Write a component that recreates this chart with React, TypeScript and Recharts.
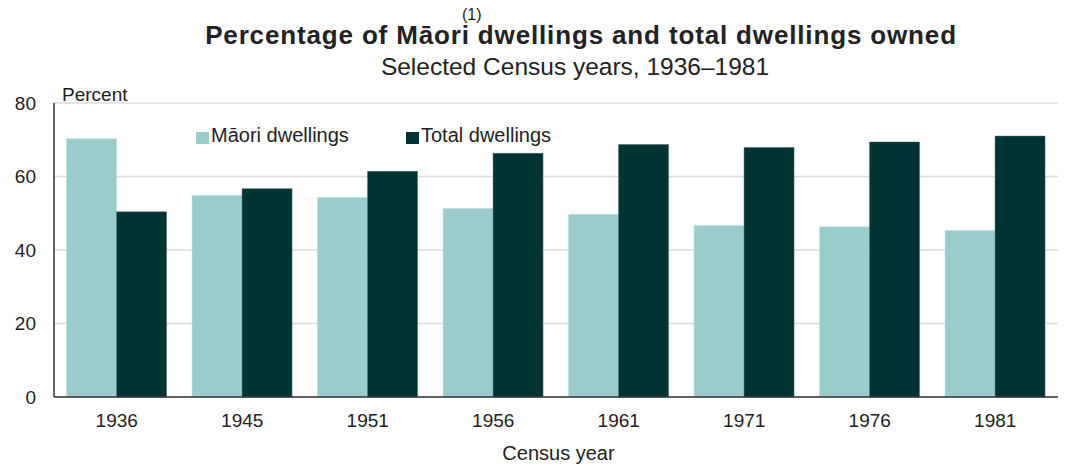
import { BarChart, Bar, XAxis, YAxis, CartesianGrid } from "recharts";

const MAORI = "#9bcccc", TOTAL = "#003434", GRID = "#dcdcdc", AXIS = "#333", TEXT = "#222";
const FONT = "'Liberation Sans', Arial, Helvetica, sans-serif";

const years = ["1936", "1945", "1951", "1956", "1961", "1971", "1976", "1981"];
const maori = [70.3, 54.8, 54.3, 51.3, 49.7, 46.7, 46.3, 45.3];
const total = [50.4, 56.7, 61.4, 66.3, 68.7, 67.9, 69.4, 71.0];
const yTicks = [0, 20, 40, 60, 80];

const data = years.map((y, i) => ({ year: y, maori: maori[i], total: total[i] }));

const txt = (top: number, size: number, extra: React.CSSProperties = {}): React.CSSProperties => ({
  position: "absolute", top, fontSize: size, lineHeight: 1, color: TEXT, whiteSpace: "nowrap", ...extra,
});

function LegendItem({ color, label, left }: { color: string; label: string; left: number }) {
  return (
    <div style={txt(125, 20, { left, display: "flex", alignItems: "flex-end" })}>
      <span style={{ width: 13, height: 12, background: color, marginRight: 2, marginBottom: 1 }} />
      <span>{label}</span>
    </div>
  );
}

export default function App() {
  return (
    <div style={{ position: "absolute", left: 0, top: 0, width: 1066, height: 466, background: "#fff", fontFamily: FONT }}>
      <div style={txt(22, 26, { left: 0, width: 1162, textAlign: "center", fontWeight: "bold", letterSpacing: 0.85 })}>
        Percentage of Māori dwellings and total dwellings owned
      </div>
      <div style={txt(7, 16, { left: 462 })}>(1)</div>
      <div style={txt(55, 24.5, { left: 0, width: 1150, textAlign: "center" })}>Selected Census years, 1936–1981</div>
      <div style={txt(85, 19, { left: 62 })}>Percent</div>
      <div style={txt(443, 20, { left: 0, width: 1117, textAlign: "center" })}>Census year</div>
      <LegendItem color={MAORI} label="Māori dwellings" left={196} />
      <LegendItem color={TOTAL} label="Total dwellings" left={406} />
      <BarChart width={1066} height={466} data={data} margin={{ top: 103, right: 8, bottom: 39, left: 0 }}
        barCategoryGap="10%" barGap={0}>
        <CartesianGrid vertical={false} stroke={GRID} strokeWidth={1.5} />
        <XAxis dataKey="year" height={30} stroke={AXIS} strokeWidth={1.5} tickLine={false} tickSize={0} tickMargin={17}
          tick={{ fill: TEXT, fontSize: 19, fontFamily: FONT }} />
        <YAxis width={54} domain={[0, 80]} ticks={yTicks} stroke={AXIS} strokeWidth={1.5} tickLine={false} tickSize={0}
          tickMargin={18} tick={{ fill: TEXT, fontSize: 19, fontFamily: FONT }} />
        <Bar dataKey="maori" name="Māori dwellings" fill={MAORI} stroke="#b8dede" strokeWidth={0.5} isAnimationActive={false} />
        <Bar dataKey="total" name="Total dwellings" fill={TOTAL} stroke="#4a6a6a" strokeWidth={0.5} isAnimationActive={false} />
      </BarChart>
    </div>
  );
}
